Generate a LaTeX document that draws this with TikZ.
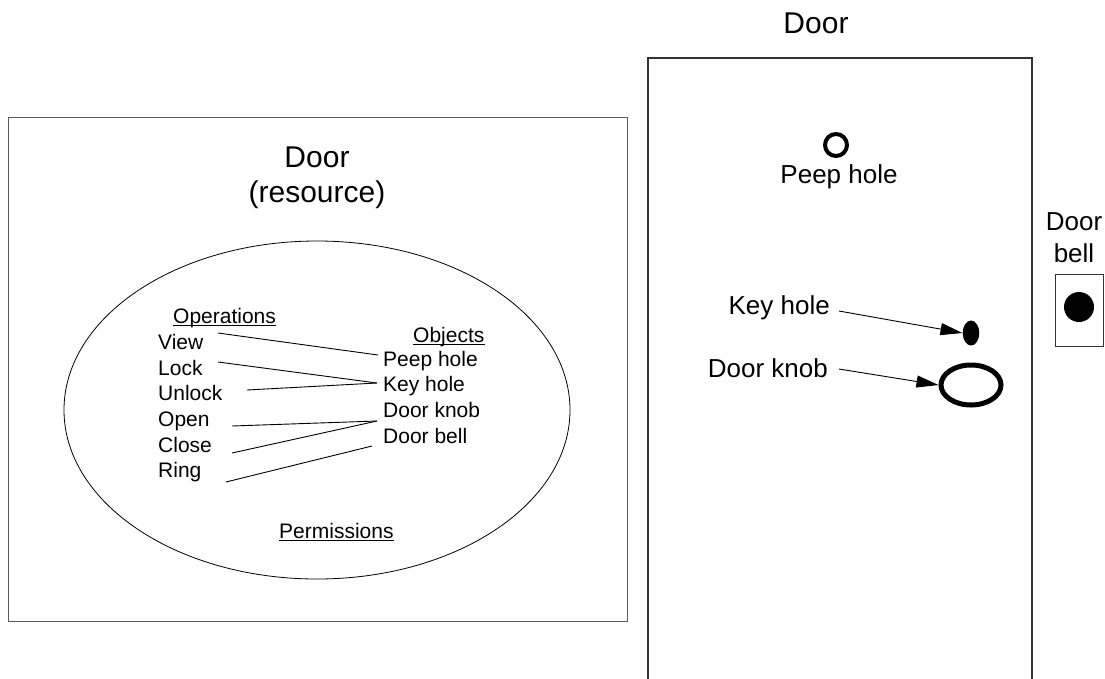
\documentclass[tikz,border=0pt]{standalone}
\usepackage{fontspec}
\setmainfont{Liberation Sans}
\usetikzlibrary{shapes.geometric,arrows.meta}
\begin{document}
\begin{tikzpicture}[x=1pt,y=-1pt,
  lbl/.style={inner sep=0pt, anchor=base west, font=\fontsize{21}{25}\selectfont},
  big/.style={inner sep=0pt, anchor=base, font=\fontsize{30}{34}\selectfont},
  mid/.style={inner sep=0pt, anchor=base, font=\fontsize{26}{30}\selectfont},
  link/.style={line width=0.9pt},
  uline/.style={line width=1pt},
  ptr/.style={line width=0.9pt, -{Triangle[length=22pt,width=12pt]}}]
\useasboundingbox (0,0) rectangle (1105,678);
% left: resource
\node[draw=black!65, line width=1.2pt, minimum width=619pt, minimum height=504pt, inner sep=0pt, anchor=north west] (res) at (8,117) {};
\node[big] (t1) at (317,167) {Door};
\node[big] (t2) at (317,202) {(resource)};
\node[draw, ellipse, minimum width=506pt, minimum height=338pt, inner sep=0pt, line width=0.8pt] (perm) at (317,410) {};
\node[lbl] (ops) at (173,323) {Operations};
\node[lbl] (objs) at (413,342) {Objects};
\node[lbl] (perms) at (279,538) {Permissions};
\draw[uline] ([yshift=-2.5pt]ops.base west) -- ([yshift=-2.5pt]ops.base east);
\draw[uline] ([yshift=-2.5pt]objs.base west) -- ([yshift=-2.5pt]objs.base east);
\draw[uline] ([yshift=-2.5pt]perms.base west) -- ([yshift=-2.5pt]perms.base east);
\node[lbl] (view) at (158,349) {View};
\node[lbl] (lock) at (158,375) {Lock};
\node[lbl] (unlock) at (158,400) {Unlock};
\node[lbl] (open) at (158,426) {Open};
\node[lbl] (close) at (158,452) {Close};
\node[lbl] (ring) at (158,477) {Ring};
\node[lbl] (opeep) at (383,366) {Peep hole};
\node[lbl] (okey) at (383,391) {Key hole};
\node[lbl] (oknob) at (383,417) {Door knob};
\node[lbl] (obell) at (383,443) {Door bell};
\coordinate (cv) at (218,333);
\coordinate (cl) at (218,362);
\coordinate (cu) at (247,390);
\coordinate (co) at (232,426);
\coordinate (cc) at (232,453);
\coordinate (cr) at (226,482);
\coordinate (ep) at (378,355);
\coordinate (ek) at (377,383);
\coordinate (ed) at (377,421);
\coordinate (eb) at (372,446);
\draw[link] (cv) -- (ep);
\draw[link] (cl) -- (ek);
\draw[link] (cu) -- (ek);
\draw[link] (co) -- (ed);
\draw[link] (cc) -- (ed);
\draw[link] (cr) -- (eb);
% right: door
\node[draw=black!80, line width=1.5pt, minimum width=384pt, minimum height=640pt, inner sep=0pt, anchor=north west] (door) at (647,57) {};
\node[big] (t3) at (816,33) {Door};
\node[circle, draw, line width=4pt, minimum size=22pt, inner sep=0pt] (peep) at (836,145) {};
\node[mid] (peeplbl) at (839,183) {Peep hole};
\node[ellipse, fill=black, minimum width=16.6pt, minimum height=25pt, inner sep=0pt] (key) at (971,333) {};
\node[mid, anchor=base east] (keylbl) at (830,314) {Key hole};
\node[ellipse, draw, line width=5pt, minimum width=60pt, minimum height=40pt, inner sep=0pt] (knob) at (971,385) {};
\node[mid, anchor=base east] (knoblbl) at (828,377) {Door knob};
\coordinate (ks) at (839,311);
\coordinate (ds) at (839,369);
\draw[ptr] (ks) -- (key.west);
\draw[ptr] (ds) -- (knob.west);
% door bell
\node[mid] (bl1) at (1074,230) {Door};
\node[mid] (bl2) at (1074,262) {bell};
\node[draw=black!80, line width=1pt, minimum width=48pt, minimum height=72pt, inner sep=0pt] (bellbox) at (1079,310) {};
\node[circle, fill=black, minimum size=30pt, inner sep=0pt] (bell) at (1079,307) {};
\end{tikzpicture}
\end{document}
